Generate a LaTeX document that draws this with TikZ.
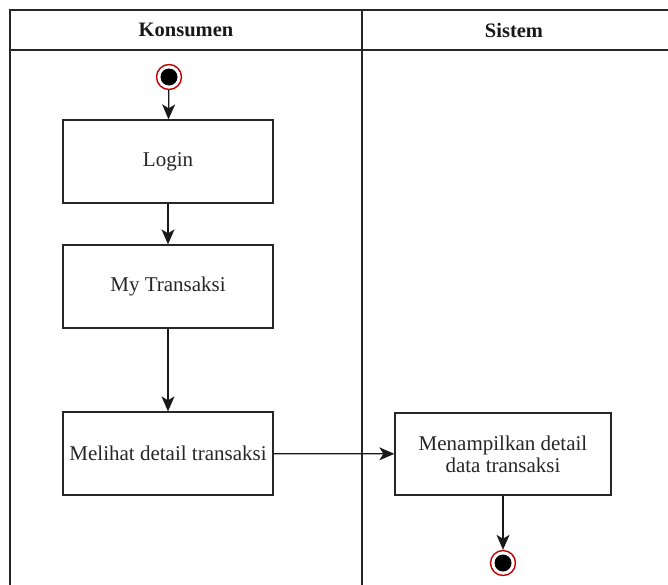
\documentclass[tikz,border=0pt]{standalone}
\usepackage{fontspec}
\setmainfont{LiberationSerif}[Extension=.ttf, UprightFont=*-Regular, BoldFont=*-Bold]
\usetikzlibrary{arrows.meta}
\tikzset{
  lane/.style={line width=1.6pt, draw=black!85},
  actbox/.style={draw=black!85, line width=1.3pt, rectangle, minimum width=210pt, minimum height=83pt, align=center, font=\fontsize{21}{22}\selectfont, text=black!85, inner sep=2pt},
  hdr/.style={font=\fontsize{20.5}{23}\selectfont\bfseries, text=black!90},
  startend/.style={circle, draw=red!75!black, line width=1.4pt, fill=white, minimum size=25pt, inner sep=0pt,
    path picture={\fill[black] (path picture bounding box.center) circle (8.5pt);}},
  flow/.style={-{Stealth[length=15pt,width=13pt,inset=4pt]}, line width=1.3pt, draw=black!90}
}
\begin{document}
\begin{tikzpicture}[x=1pt,y=-1pt]
\useasboundingbox (0,0) rectangle (668,584);
\fill[white] (0,0) rectangle (668,584);
% swimlanes
\draw[lane] (10,600) -- (10,10) -- (672,10);
\draw[lane] (10,50) -- (672,50);
\draw[lane] (362,10) -- (362,600);
\node[hdr] (hk) at (186,30) {Konsumen};
\node[hdr] (hs) at (514,30) {Sistem};
% nodes
\node[startend] (start) at (169,77) {};
\node[actbox] (login) at (168,161.5) {Login};
\node[actbox] (mytr) at (168,286.5) {My Transaksi};
\node[actbox] (lihat) at (168,453.5) {Melihat detail transaksi};
\node[actbox, minimum width=216pt, minimum height=82pt] (tampil) at (503,454) {Menampilkan detail\\data transaksi};
\node[startend] (end) at (503,563) {};
% flows
\draw[flow] (start) -- (login);
\draw[flow] (login) -- (mytr);
\draw[flow] (mytr) -- (lihat);
\draw[flow] (lihat) -- (tampil);
\draw[flow] (tampil) -- (end);
\end{tikzpicture}
\end{document}
